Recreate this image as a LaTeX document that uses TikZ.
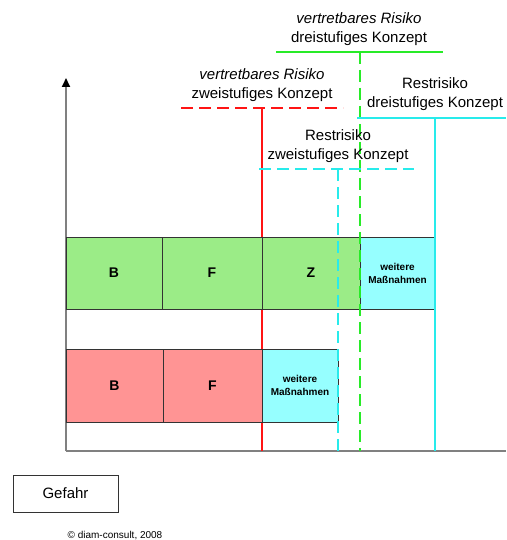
\documentclass[tikz,border=0pt]{standalone}
\usepackage{fontspec}
\setmainfont{Liberation Sans}
\usetikzlibrary{arrows.meta}
\definecolor{gfill}{RGB}{155,236,135}
\definecolor{rfill}{RGB}{255,148,148}
\definecolor{cfill}{RGB}{150,255,255}
\definecolor{axgray}{RGB}{128,128,128}
\definecolor{lred}{RGB}{255,20,20}
\definecolor{lgreen}{RGB}{40,235,40}
\definecolor{lcyan}{RGB}{40,235,235}
\begin{document}
\begin{tikzpicture}[x=1pt,y=-1pt,
  cell/.style={draw=black!80,line width=1pt,inner sep=0pt,font=\fontsize{14}{16}\selectfont\bfseries},
  wcell/.style={cell,fill=cfill,font=\fontsize{10}{13}\selectfont\bfseries,align=center},
  lbl/.style={align=center,inner sep=0pt,font=\fontsize{15}{18.5}\selectfont},
  axis/.style={draw=axgray,line width=2pt},
  solidline/.style={line width=1.5pt},
  dashline/.style={line width=1.5pt,dash pattern=on 12pt off 6pt}]
\useasboundingbox (0,0) rectangle (506,540);
\fill[white] (0,0) rectangle (506,540);
% coordinates
\coordinate (o) at (66,451);
\coordinate (ytop) at (66,78);
\coordinate (xend) at (506,451);
\coordinate (rvt) at (262,108);
\coordinate (rvb) at (262,451);
\coordinate (rhl) at (181,108);
\coordinate (rhr) at (343,108);
\coordinate (gvt) at (360,52);
\coordinate (gvb) at (360,451);
\coordinate (ghl) at (276,52);
\coordinate (ghr) at (443,52);
\coordinate (cvt) at (435,118);
\coordinate (cvb) at (435,451);
\coordinate (chl) at (357,118);
\coordinate (chr) at (506,118);
\coordinate (dvt) at (338,169);
\coordinate (dvb) at (338,451);
\coordinate (dhl) at (259,169);
\coordinate (dhr) at (414,169);
% axes
\draw[axis,-{Triangle[length=9pt,width=8pt,color=black,fill=black]}] (o) -- (ytop);
\draw[axis] (o) -- (xend);
% red (beneath boxes)
\draw[lred,solidline] (rvt) -- (rvb);
\draw[lred,dashline] (rhl) -- (rhr);
% boxes
\node[cell,fill=gfill,minimum width=96pt,minimum height=72pt] (gB) at (114,273) {B};
\node[cell,fill=gfill,minimum width=100pt,minimum height=72pt] (gF) at (212,273) {F};
\node[cell,fill=gfill,minimum width=98pt,minimum height=72pt] (gZ) at (311,273) {Z};
\node[wcell,minimum width=75pt,minimum height=72pt] (gW) at (397.5,273) {weitere\\Maßnahmen};
\node[cell,fill=rfill,minimum width=97pt,minimum height=73pt] (rB) at (114.5,385.5) {B};
\node[cell,fill=rfill,minimum width=99pt,minimum height=73pt] (rF) at (212.5,385.5) {F};
\node[wcell,minimum width=76pt,minimum height=73pt] (rW) at (300,385.5) {weitere\\Maßnahmen};
% other lines
\draw[lgreen,dashline] (gvt) -- (gvb);
\draw[lgreen,solidline] (ghl) -- (ghr);
\draw[lcyan,solidline] (cvt) -- (cvb);
\draw[lcyan,solidline] (chl) -- (chr);
\draw[lcyan,dashline] (dvt) -- (dvb);
\draw[lcyan,dashline] (dhl) -- (dhr);
% labels
\node[lbl] (t1) at (359,29) {\itshape vertretbares Risiko\\dreistufiges Konzept};
\node[lbl] (t2) at (262,85) {\itshape vertretbares Risiko\\zweistufiges Konzept};
\node[lbl] (t3) at (435,94) {Restrisiko\\dreistufiges Konzept};
\node[lbl] (t4) at (338,146) {Restrisiko\\zweistufiges Konzept};
% legend
\node[draw=black!80,line width=1pt,minimum width=105pt,minimum height=37pt,inner sep=0pt,font=\fontsize{15}{18}\selectfont] (gef) at (65.5,493.5) {Gefahr};
\node[inner sep=0pt,font=\fontsize{10}{12}\selectfont] (copy) at (115,536) {© diam-consult, 2008};
\end{tikzpicture}
\end{document}
